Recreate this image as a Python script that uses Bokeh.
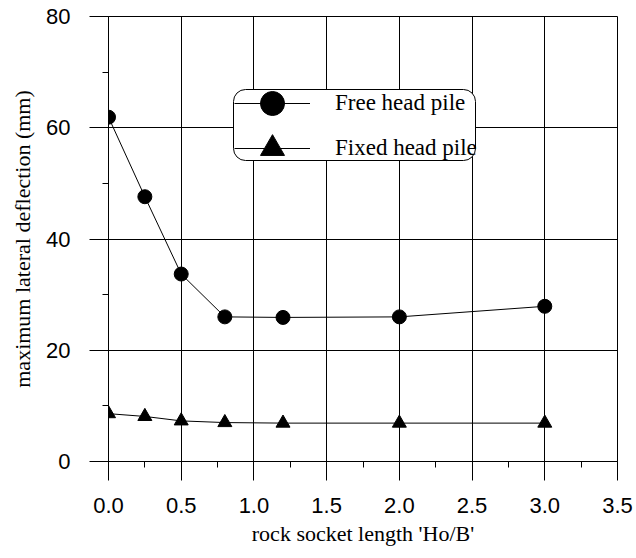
from bokeh.plotting import figure
from bokeh.models import (Range1d, SingleIntervalTicker, PrintfTickFormatter,
                          Legend, LegendItem, BoxAnnotation)
from bokeh.embed import file_html
from bokeh.resources import INLINE

# ---- data ----
socket_length = [0.0, 0.25, 0.5, 0.8, 1.2, 2.0, 3.0]
free_head = [61.9, 47.6, 33.7, 26.0, 25.9, 26.0, 27.9]
fixed_head = [8.6, 8.1, 7.3, 7.0, 6.9, 6.9, 6.9]
series_labels = ["Free head pile", "Fixed head pile"]
x_label = "rock socket length 'Ho/B'"
y_label = "maximum lateral deflection (mm)"

SANS = "Liberation Sans"
SERIF = "Liberation Serif"

p = figure(frame_width=509, frame_height=445,
           x_range=Range1d(0, 3.5), y_range=Range1d(0, 80),
           output_backend="svg", toolbar_location=None,
           min_border_left=108, min_border_right=19,
           min_border_top=16, min_border_bottom=97,
           background_fill_color="white", border_fill_color="white",
           outline_line_color="black", outline_line_width=1)

p.xaxis.ticker = SingleIntervalTicker(interval=0.5, num_minor_ticks=2)
p.yaxis.ticker = SingleIntervalTicker(interval=20, num_minor_ticks=2)
p.xaxis.formatter = PrintfTickFormatter(format="%.1f")
p.xgrid.ticker = p.xaxis.ticker
p.ygrid.ticker = p.yaxis.ticker

for ax in (p.xaxis, p.yaxis):
    ax.axis_line_color = "black"
    ax.axis_line_width = 1
    ax.major_tick_line_color = "black"
    ax.minor_tick_line_color = "black"
    ax.major_tick_out = 19
    ax.major_tick_in = 0
    ax.minor_tick_out = 6
    ax.minor_tick_in = 0
    ax.major_label_text_font = SANS
    ax.major_label_text_font_size = "22px"
    ax.major_label_text_color = "black"
    ax.axis_label_text_font = SERIF
    ax.axis_label_text_font_size = "22px"
    ax.axis_label_text_font_style = "normal"
    ax.axis_label_text_color = "black"

p.xaxis.axis_label = x_label
p.yaxis.axis_label = y_label
p.xaxis.major_label_standoff = 17
p.yaxis.major_label_standoff = 19
p.xaxis.axis_label_standoff = 5
p.yaxis.axis_label_standoff = 8

for g in (p.xgrid, p.ygrid):
    g.grid_line_color = "black"
    g.grid_line_width = 1
    g.grid_line_alpha = 1.0

free_line = p.line(socket_length, free_head, line_color="black", line_width=1)
free_pts = p.scatter(socket_length, free_head, marker="circle", size=14,
                     fill_color="black", line_color="black")
fixed_line = p.line(socket_length, fixed_head, line_color="black", line_width=1)
fixed_pts = p.scatter(socket_length, fixed_head, marker="triangle", size=14,
                      fill_color="black", line_color="black")

# legend frame (rounded box)
box_kw = dict(left=125, right=367, top=372, bottom=301,
              left_units="screen", right_units="screen",
              top_units="screen", bottom_units="screen",
              fill_color="white", fill_alpha=1.0,
              line_color="black", line_width=1, line_alpha=1.0)
if "border_radius" in BoxAnnotation.properties():
    box_kw["border_radius"] = 12
box = BoxAnnotation(**box_kw)
p.add_layout(box)

legend_kw = dict(glyph_width=76, glyph_height=60, spacing=0,
                 padding=0, margin=0, label_standoff=25,
                 label_text_font=SERIF, label_text_font_size="23px",
                 label_text_color="black",
                 background_fill_alpha=0.0, border_line_alpha=0.0)

legend_free = Legend(items=[LegendItem(label=series_labels[0],
                                       renderers=[free_line, free_pts])],
                     location=(126, 328), **legend_kw)
legend_fixed = Legend(items=[LegendItem(label=series_labels[1],
                                        renderers=[fixed_line, fixed_pts])],
                      location=(126, 283), **legend_kw)
p.add_layout(legend_free)
p.add_layout(legend_fixed)

open("out.html", "w").write(file_html(p, INLINE))
